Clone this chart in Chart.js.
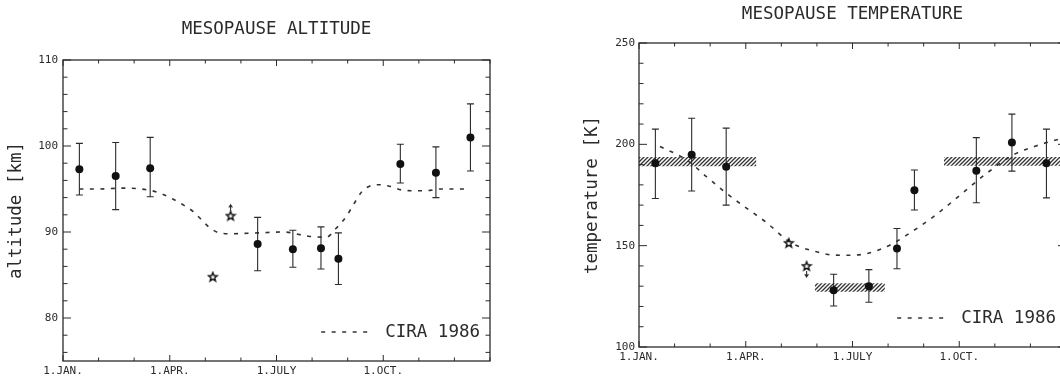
<!DOCTYPE html>
<html>
<head>
<meta charset="utf-8">
<title>Mesopause altitude and temperature</title>
<script src="https://cdn.jsdelivr.net/npm/chart.js@4.4.1/dist/chart.umd.min.js"></script>
<style>
  html, body { margin: 0; padding: 0; background: #fff; overflow: hidden; }
  #wrap { position: relative; width: 1060px; height: 383px; overflow: hidden; }
  #altChart { position: absolute; left: 0; top: 0; }
  #tempChart { position: absolute; left: 553px; top: 0; }
</style>
</head>
<body>
<div id="wrap">
  <canvas id="altChart" width="553" height="383"></canvas>
  <canvas id="tempChart" width="530" height="383"></canvas>
</div>
<script>
// time axis is in months after 1 January
const monthTicks = [0, 3, 6, 9];
const monthLabels = ['1.JAN.', '1.APR.', '1.JULY', '1.OCT.'];

// campaign dates (filled circles) and single nights (stars)
const campaignMonth = [0.46, 1.48, 2.45, 5.47, 6.46, 7.25, 7.74, 9.48, 10.48, 11.45];
const starMonth = [4.21, 4.71];

// mesopause altitude [km]
const altTicks = [80, 90, 100, 110];
const altValue = [97.3, 96.5, 97.4, 88.6, 88.0, 88.1, 86.9, 97.9, 96.9, 101.0];
const altUpper = [100.3, 100.4, 101.0, 91.7, 90.2, 90.6, 89.9, 100.2, 99.9, 104.9];
const altLower = [94.3, 92.6, 94.1, 85.5, 85.9, 85.7, 83.9, 95.7, 94.0, 97.1];
const altStar = [84.8, 91.9];
const altStarArrow = [0, 1];
const ciraAltMonth = [0.46, 1.0, 1.7, 2.5, 2.8, 3.1, 3.4, 3.65, 3.9, 4.12, 4.4, 4.7, 5.5, 6.2, 6.9,
  7.4, 7.67, 7.96, 8.18, 8.4, 8.6, 8.9, 9.2, 9.5, 9.8, 10.2, 10.6, 11.3];
const ciraAlt = [95.0, 95.0, 95.1, 94.8, 94.4, 93.8, 93.1, 92.4, 91.4, 90.5, 89.9, 89.8, 89.9, 90.0, 89.5,
  89.4, 90.4, 91.8, 93.3, 94.7, 95.3, 95.5, 95.3, 94.9, 94.8, 94.8, 95.0, 95.0];

// mesopause temperature [K]
const tempTicks = [100, 150, 200, 250];
const tempValue = [190.7, 194.8, 189.0, 128.0, 130.0, 148.6, 177.4, 187.0, 200.9, 190.7];
const tempUpper = [207.5, 212.9, 208.0, 135.9, 138.2, 158.5, 187.3, 203.3, 214.9, 207.5];
const tempLower = [173.3, 177.0, 170.0, 120.2, 122.1, 138.6, 167.6, 171.2, 186.8, 173.6];
const tempStar = [151.4, 140.0];
const tempStarArrow = [0, -1];
const ciraTempMonth = [0.59, 1.34, 1.90, 2.46, 3.03, 3.59, 4.19, 4.52, 4.90, 5.27, 5.65, 6.02, 6.40,
  6.77, 7.14, 7.52, 8.27, 9.02, 9.77, 10.52, 11.26, 11.8];
const ciraTemp = [198.9, 192.3, 184.0, 175.8, 168.4, 161.3, 152.4, 149.4, 147.4, 145.8, 145.3, 145.3, 146.1,
  148.1, 151.1, 155.2, 164.2, 174.9, 185.7, 194.8, 199.8, 202.5];

// seasonal mean temperature bands (hatched)
const bandStart = [0.0, 4.94, 8.57];
const bandEnd = [3.30, 6.91, 12.0];
const bandLow = [189.2, 127.2, 189.4];
const bandHigh = [193.8, 131.4, 193.7];

const FONT = 'DejaVu Sans Mono';
const INK = '#2b2b2b';
Chart.defaults.font.family = FONT;
Chart.defaults.color = INK;

const xy = (xs, ys) => xs.map((x, i) => ({ x, y: ys[i] }));

function starMark() {
  const c = document.createElement('canvas');
  c.width = c.height = 12;
  const g = c.getContext('2d');
  g.strokeStyle = '#111';
  g.lineWidth = 1.4;
  g.beginPath();
  for (let k = 0; k < 10; k++) {
    const r = k % 2 ? 2.0 : 4.6;
    const a = -Math.PI / 2 + k * Math.PI / 5;
    const px = 6 + r * Math.cos(a), py = 6.4 + r * Math.sin(a);
    if (k) g.lineTo(px, py); else g.moveTo(px, py);
  }
  g.closePath();
  g.stroke();
  return c;
}

function hatch() {
  const c = document.createElement('canvas');
  c.width = c.height = 4;
  const g = c.getContext('2d');
  g.strokeStyle = '#333';
  g.lineWidth = 1.3;
  g.beginPath();
  g.moveTo(-1, 5); g.lineTo(5, -1);
  g.moveTo(-1, 1); g.lineTo(1, -1);
  g.moveTo(3, 5); g.lineTo(5, 3);
  g.stroke();
  return g.createPattern(c, 'repeat');
}

// box around the plot with inward ticks on all four sides
const frame = {
  id: 'frame',
  afterDatasetsDraw(chart, args, opts) {
    const { ctx, chartArea: a, scales: { x, y } } = chart;
    ctx.save();
    ctx.strokeStyle = INK;
    ctx.lineWidth = 1.3;
    ctx.strokeRect(a.left, a.top, a.width, a.height);
    ctx.lineWidth = 1;
    ctx.beginPath();
    for (let m = x.min; m <= x.max; m += 1) {
      const px = x.getPixelForValue(m);
      const len = monthTicks.includes(m) ? 6 : 3.5;
      ctx.moveTo(px, a.bottom); ctx.lineTo(px, a.bottom - len);
      ctx.moveTo(px, a.top); ctx.lineTo(px, a.top + len);
    }
    for (let v = Math.ceil(y.min / opts.yStep) * opts.yStep; v <= y.max; v += opts.yStep) {
      const py = y.getPixelForValue(v);
      const len = opts.yMajor.includes(v) ? 8 : 4.5;
      ctx.moveTo(a.left, py); ctx.lineTo(a.left + len, py);
      ctx.moveTo(a.right, py); ctx.lineTo(a.right - len, py);
    }
    ctx.stroke();
    ctx.restore();
  }
};

// error bars under the campaign means, limit arrows on single nights
const errorBars = {
  id: 'errorBars',
  beforeDatasetDraw(chart, args) {
    const ds = chart.data.datasets[args.index];
    const { ctx, scales: { x, y } } = chart;
    ctx.save();
    ctx.strokeStyle = INK;
    ctx.lineWidth = 1.1;
    ctx.beginPath();
    if (ds.errorUpper) {
      ds.data.forEach((p, i) => {
        const px = x.getPixelForValue(p.x);
        const hi = y.getPixelForValue(ds.errorUpper[i]);
        const lo = y.getPixelForValue(ds.errorLower[i]);
        ctx.moveTo(px, hi); ctx.lineTo(px, lo);
        ctx.moveTo(px - 3.5, hi); ctx.lineTo(px + 3.5, hi);
        ctx.moveTo(px - 3.5, lo); ctx.lineTo(px + 3.5, lo);
      });
    }
    if (ds.limitArrow) {
      ds.data.forEach((p, i) => {
        const dir = ds.limitArrow[i];
        if (!dir) return;
        const px = x.getPixelForValue(p.x);
        const py = y.getPixelForValue(p.y);
        const end = py - dir * 11;
        ctx.moveTo(px, py - dir * 5); ctx.lineTo(px, end);
        ctx.moveTo(px - 1.8, end + dir * 2.8); ctx.lineTo(px, end); ctx.lineTo(px + 1.8, end + dir * 2.8);
      });
    }
    ctx.stroke();
    ctx.restore();
  }
};

// dashed key for the reference atmosphere, lower right inside the box
const ciraKey = {
  id: 'ciraKey',
  afterDraw(chart) {
    const ds = chart.data.datasets.find(d => d.label === 'CIRA 1986');
    const { ctx, chartArea: a } = chart;
    const yMid = a.bottom - 29;
    const tx = a.right - 10;
    ctx.save();
    ctx.font = `17.5px ${FONT}`;
    ctx.fillStyle = INK;
    ctx.textAlign = 'right';
    ctx.textBaseline = 'middle';
    ctx.fillText(ds.label, tx, yMid);
    const w = ctx.measureText(ds.label).width;
    ctx.strokeStyle = ds.borderColor;
    ctx.lineWidth = ds.borderWidth;
    ctx.setLineDash(ds.borderDash);
    ctx.beginPath();
    ctx.moveTo(tx - w - 64, yMid);
    ctx.lineTo(tx - w - 13, yMid);
    ctx.stroke();
    ctx.restore();
  }
};

function panel(id, p) {
  const datasets = [
    {
      label: 'campaign mean',
      data: xy(campaignMonth, p.value),
      errorUpper: p.upper,
      errorLower: p.lower,
      pointStyle: 'circle',
      pointRadius: 4,
      backgroundColor: '#111',
      borderWidth: 0
    },
    {
      label: 'single night',
      data: xy(starMonth, p.star),
      limitArrow: p.arrow,
      pointStyle: starMark(),
      pointRadius: 6
    },
    {
      type: 'line',
      label: 'CIRA 1986',
      data: xy(p.ciraMonth, p.cira),
      borderColor: '#333',
      borderWidth: 1.6,
      borderDash: [4, 6.5],
      pointRadius: 0,
      cubicInterpolationMode: 'monotone',
      fill: false
    }
  ];
  (p.bands || []).forEach(b => {
    datasets.push({
      type: 'line', label: 'band top',
      data: [{ x: b.start, y: b.high }, { x: b.end, y: b.high }],
      borderWidth: 0, pointRadius: 0, fill: false
    });
    datasets.push({
      type: 'line', label: 'band',
      data: [{ x: b.start, y: b.low }, { x: b.end, y: b.low }],
      borderWidth: 0, pointRadius: 0, fill: '-1', backgroundColor: hatch()
    });
  });

  return new Chart(document.getElementById(id), {
    type: 'scatter',
    data: { datasets },
    plugins: [frame, errorBars, ciraKey],
    options: {
      responsive: false,
      animation: false,
      events: [],
      layout: { padding: { left: 0, right: p.padRight, top: 0, bottom: 0 } },
      plugins: {
        legend: { display: false },
        tooltip: { enabled: false },
        title: {
          display: true,
          text: p.title,
          fullSize: false,
          color: INK,
          font: { family: FONT, size: 17.5, weight: 'normal' },
          padding: { top: p.titleTop, bottom: p.titleBottom }
        },
        frame: { yStep: p.yStep, yMajor: p.ticks }
      },
      scales: {
        x: {
          type: 'linear',
          min: 0,
          max: 12,
          grid: { display: false, drawTicks: false },
          border: { display: false },
          afterFit: s => { s.height = p.xHeight; },
          afterBuildTicks: s => { s.ticks = monthTicks.map(v => ({ value: v })); },
          ticks: {
            autoSkip: false,
            maxRotation: 0,
            padding: p.xPad,
            font: { size: 11 },
            callback: v => monthLabels[monthTicks.indexOf(v)]
          }
        },
        y: {
          min: p.min,
          max: p.max,
          grid: { display: false, drawTicks: false },
          border: { display: false },
          afterFit: s => { s.width = p.yWidth; },
          afterBuildTicks: s => { s.ticks = p.ticks.map(v => ({ value: v })); },
          ticks: { padding: p.yPad, font: { size: 11 } },
          title: {
            display: true,
            text: p.axisTitle,
            font: { family: FONT, size: 17.5 },
            padding: { top: p.axisTitlePad, bottom: 0 }
          }
        }
      }
    }
  });
}

panel('altChart', {
  title: 'MESOPAUSE ALTITUDE',
  axisTitle: 'altitude [km]',
  value: altValue, upper: altUpper, lower: altLower,
  star: altStar, arrow: altStarArrow,
  ciraMonth: ciraAltMonth, cira: ciraAlt,
  min: 75, max: 110, ticks: altTicks, yStep: 2,
  padRight: 63, titleTop: 18.5, titleBottom: 20.5,
  xHeight: 22, xPad: 4, yWidth: 63, yPad: 5, axisTitlePad: 5.5
});

panel('tempChart', {
  title: 'MESOPAUSE TEMPERATURE',
  axisTitle: 'temperature [K]',
  value: tempValue, upper: tempUpper, lower: tempLower,
  star: tempStar, arrow: tempStarArrow,
  ciraMonth: ciraTempMonth, cira: ciraTemp,
  bands: bandStart.map((s, i) => ({ start: s, end: bandEnd[i], low: bandLow[i], high: bandHigh[i] })),
  min: 100, max: 250, ticks: tempTicks, yStep: 10,
  padRight: 17, titleTop: 3.5, titleBottom: 18.5,
  xHeight: 36, xPad: 3.4, yWidth: 86, yPad: 4, axisTitlePad: 28.5
});
</script>
</body>
</html>
